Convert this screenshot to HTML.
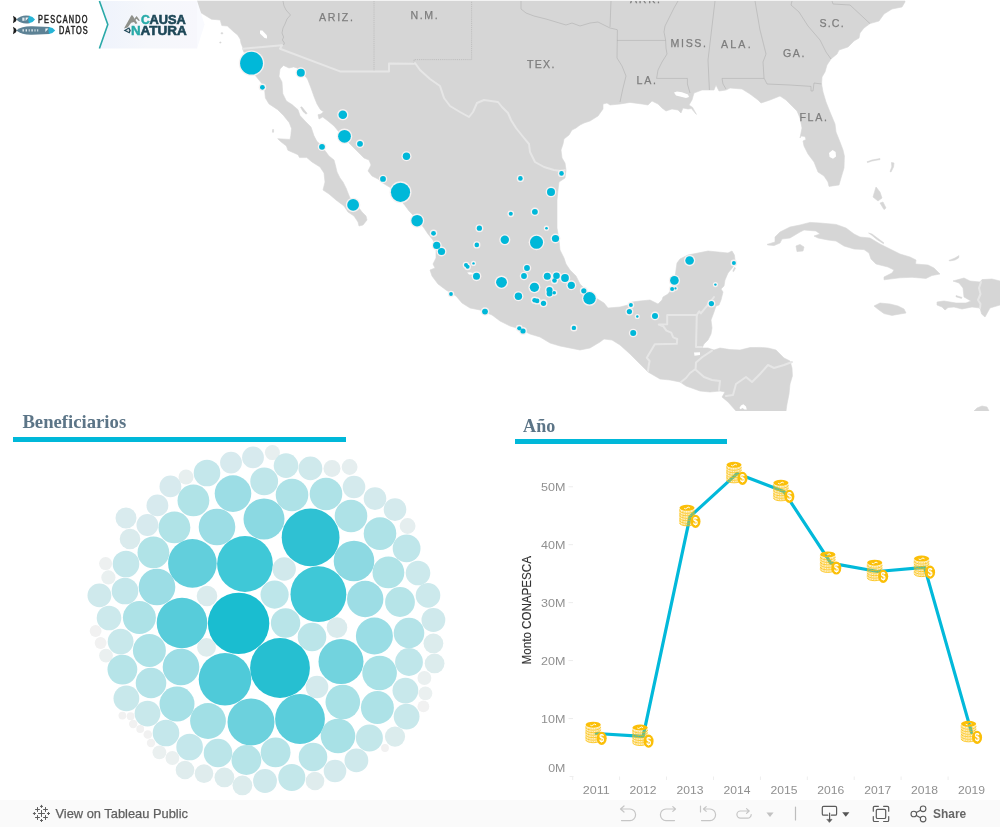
<!DOCTYPE html>
<html><head><meta charset="utf-8"><title>Pescando Datos</title>
<style>
html,body{margin:0;padding:0;background:#fff;}
svg{will-change:transform;}
body{width:1000px;height:827px;position:relative;overflow:hidden;font-family:"Liberation Sans",sans-serif;}
.ttl{position:absolute;font-family:"Liberation Serif",serif;font-weight:bold;color:#5c7587;white-space:nowrap;}
.bar{position:absolute;background:#00b5d8;}
</style></head><body>
<svg width="1000" height="411" viewBox="0 0 1000 411" style="position:absolute;left:0;top:0">
<rect x="0" y="0" width="1000" height="411" fill="#fff"/><defs><clipPath id="mc"><rect x="0" y="1" width="1000" height="410"/></clipPath></defs>
<g stroke="#d6d6d6" stroke-width="0.6" stroke-linejoin="round">
<path d="M197.0,1.0 L905.0,1.0 L905.0,2.0 L902.0,7.0 L892.0,9.0 L884.0,14.0 L879.0,21.0 L870.0,23.6 L864.0,28.0 L860.0,33.0 L859.0,38.0 L854.0,41.0 L848.0,47.0 L839.0,50.0 L837.0,54.0 L831.0,59.0 L827.0,65.0 L825.0,72.0 L822.0,77.0 L821.6,84.0 L823.0,92.0 L826.0,102.0 L830.0,112.0 L835.0,124.0 L836.0,132.0 L840.0,142.0 L843.0,150.0 L844.4,156.0 L844.0,168.0 L841.0,178.0 L839.0,185.0 L829.0,186.4 L828.0,182.0 L824.0,176.0 L818.0,172.0 L814.0,162.0 L808.0,154.0 L804.0,146.0 L803.0,141.0 L806.0,139.5 L805.0,136.5 L801.0,136.0 L800.0,138.0 L802.0,128.0 L800.0,118.0 L797.0,111.0 L792.0,106.0 L786.0,100.0 L780.0,96.0 L770.0,100.0 L761.0,103.0 L758.0,100.0 L750.0,94.0 L742.0,89.0 L730.0,88.0 L726.0,90.0 L719.0,91.0 L716.0,85.0 L714.0,90.0 L702.0,90.0 L694.0,93.0 L692.0,100.0 L689.0,105.0 L692.6,107.4 L696.4,114.4 L691.4,108.6 L688.0,109.0 L683.0,108.0 L681.0,113.0 L678.0,110.0 L672.0,109.0 L666.0,111.0 L662.0,108.0 L658.0,104.0 L652.0,101.0 L648.0,105.0 L642.0,104.0 L630.0,102.4 L620.0,104.0 L610.0,105.0 L607.0,103.0 L603.0,104.0 L603.0,109.0 L598.0,116.0 L590.0,121.0 L584.0,123.0 L580.0,125.0 L576.0,128.0 L572.0,130.0 L569.0,135.0 L564.0,139.0 L563.0,144.0 L561.0,150.0 L562.0,158.0 L565.0,163.0 L566.0,170.0 L565.0,178.0 L559.0,182.0 L558.0,190.0 L557.0,200.0 L557.0,216.0 L557.0,228.0 L559.0,240.0 L560.0,250.0 L564.0,258.0 L566.0,264.0 L570.0,270.0 L576.0,276.0 L580.0,284.0 L586.0,290.0 L596.0,298.0 L604.0,303.0 L608.0,308.0 L620.0,307.0 L628.0,305.0 L632.0,302.0 L640.0,301.0 L650.0,300.0 L658.0,304.0 L662.0,300.0 L663.0,297.0 L668.0,294.0 L671.0,290.0 L673.0,284.0 L675.0,278.0 L676.0,270.0 L677.0,263.0 L680.0,259.0 L688.0,255.0 L698.0,253.0 L708.0,251.0 L718.0,252.0 L728.0,253.0 L732.0,251.0 L734.4,255.0 L735.0,260.0 L733.0,267.0 L728.0,273.0 L725.0,280.0 L724.0,286.0 L721.0,289.0 L723.0,292.0 L721.0,300.0 L719.0,305.0 L716.0,306.0 L714.0,312.0 L711.0,320.0 L712.0,328.0 L711.0,334.0 L708.0,340.0 L704.0,344.0 L702.0,348.0 L708.0,348.0 L714.0,350.0 L720.0,348.0 L730.0,349.6 L740.0,350.0 L750.0,347.6 L760.0,347.4 L768.0,348.0 L776.0,350.0 L780.0,354.0 L784.0,358.0 L790.0,361.0 L792.0,368.0 L792.4,376.0 L790.0,384.0 L789.0,394.0 L787.0,404.0 L786.0,411.0 L736.0,411.0 L728.0,402.0 L722.0,397.0 L725.0,392.0 L720.0,391.0 L710.0,392.0 L700.0,391.0 L686.0,386.0 L680.0,382.0 L670.0,380.0 L660.0,379.0 L648.0,372.0 L640.0,364.0 L630.0,354.0 L620.0,345.0 L612.0,340.0 L604.0,339.0 L600.0,342.0 L590.0,348.0 L580.0,350.0 L570.0,348.0 L560.0,346.0 L550.0,343.0 L540.0,337.0 L530.0,334.0 L520.0,329.0 L510.0,326.0 L500.0,321.0 L492.0,315.0 L480.0,310.0 L470.0,308.0 L462.0,303.0 L456.0,296.0 L446.0,290.0 L438.0,284.0 L432.0,276.0 L430.0,270.0 L435.0,268.0 L433.0,264.0 L436.0,258.0 L436.0,250.0 L433.0,240.0 L428.0,234.0 L424.0,228.0 L418.0,220.0 L409.0,211.0 L405.0,205.5 L398.0,197.0 L391.0,188.0 L386.0,185.0 L382.0,182.5 L378.0,179.0 L372.0,176.0 L368.0,171.0 L371.0,165.0 L369.0,160.0 L364.0,158.0 L358.0,152.0 L354.0,148.0 L350.0,144.0 L344.0,138.0 L339.0,132.0 L334.0,126.0 L328.0,121.0 L322.7,117.0 L319.0,119.0 L318.0,114.7 L321.0,114.0 L323.5,111.8 L320.5,109.7 L317.0,104.0 L314.0,96.6 L311.0,88.0 L307.5,79.0 L302.0,72.0 L297.0,68.0 L293.7,66.9 L289.0,68.0 L283.5,65.4 L280.0,69.0 L279.0,76.3 L282.0,82.0 L282.8,93.7 L286.4,101.0 L292.0,104.6 L298.0,109.7 L300.0,115.5 L305.0,121.0 L311.0,127.0 L314.0,135.8 L317.0,141.6 L320.0,144.0 L326.0,152.0 L329.0,156.0 L334.0,160.0 L335.6,166.0 L337.0,172.0 L340.0,178.0 L343.0,182.0 L346.5,189.0 L347.0,190.5 L350.0,198.0 L358.0,204.0 L359.0,208.0 L362.0,212.0 L366.0,216.0 L367.0,220.0 L363.0,225.0 L359.0,226.0 L358.0,222.0 L354.0,216.0 L348.0,212.0 L344.0,206.0 L336.0,200.0 L329.0,194.0 L323.0,190.0 L325.0,182.0 L324.0,173.0 L320.0,167.0 L312.0,162.0 L306.8,157.6 L299.5,157.6 L298.0,154.7 L287.9,150.3 L286.4,146.0 L280.6,141.6 L277.7,138.7 L290.0,139.4 L290.8,135.8 L291.5,128.5 L289.3,122.7 L283.5,115.5 L277.7,109.7 L269.0,103.9 L265.4,98.0 L264.7,90.8 L261.8,83.5 L256.0,76.3 L250.0,68.0 L245.0,54.0 L243.4,51.2 L242.6,47.2 L241.0,43.2 L240.2,39.2 L237.8,35.2 L233.0,31.2 L227.4,26.0 L221.8,25.6 L220.2,20.0 L211.4,19.2 L201.0,12.8Z" fill="#d6d6d6"/>
<path d="M767.0,244.4 L775.0,242.0 L775.0,237.0 L780.0,232.0 L790.0,227.0 L800.0,225.0 L810.0,222.4 L820.0,223.0 L836.0,224.4 L846.0,228.0 L854.0,234.0 L860.0,237.0 L870.0,238.0 L880.0,244.0 L890.0,249.0 L900.0,254.0 L910.0,257.0 L916.0,260.0 L915.5,264.0 L928.0,265.0 L934.0,268.0 L940.0,274.0 L932.0,275.5 L926.0,278.4 L912.0,277.3 L900.0,277.8 L884.0,279.8 L884.0,277.0 L892.0,273.0 L894.0,270.0 L888.0,267.0 L876.0,264.0 L871.0,259.0 L869.0,253.0 L864.0,249.6 L854.0,249.0 L844.0,246.0 L836.0,241.0 L828.0,240.0 L818.0,238.0 L814.0,236.0 L820.0,234.0 L816.0,231.0 L804.0,230.0 L800.0,232.0 L790.0,238.0 L782.0,239.0 L780.0,243.0 L774.0,245.6 L768.0,245.0Z" fill="#d6d6d6"/>
<path d="M796.0,246.0 L800.0,244.4 L804.0,247.0 L803.0,251.0 L797.0,251.6Z" fill="#d6d6d6"/>
<path d="M874.0,306.0 L880.0,303.0 L890.0,304.0 L898.0,306.0 L904.0,309.0 L906.0,313.0 L900.0,314.0 L892.0,315.4 L884.0,313.6 L879.0,310.0Z" fill="#d6d6d6"/>
<path d="M953.0,281.0 L964.0,278.0 L970.0,281.0 L980.0,282.0 L982.0,279.6 L992.0,279.0 L1000.0,281.0 L1000.0,305.0 L990.0,308.0 L985.0,317.0 L981.6,314.0 L980.0,308.0 L972.0,307.0 L962.0,309.0 L954.0,307.0 L948.0,307.6 L945.0,310.0 L942.0,307.0 L937.0,305.0 L937.0,302.0 L944.0,301.0 L956.0,303.0 L966.0,303.0 L971.0,301.0 L964.0,297.0 L963.0,288.0 L959.0,283.0Z" fill="#d6d6d6"/>
<path d="M956.0,295.6 L962.0,297.4 L961.5,298.4 L956.0,296.8Z" fill="#d6d6d6"/>
<path d="M876.0,187.0 L873.0,197.0 L878.0,201.0 L882.0,198.0 L880.0,192.0Z" fill="#d6d6d6"/>
<path d="M880.0,203.0 L884.0,209.6 L886.0,208.0 L883.0,202.0Z" fill="#d6d6d6"/>
<path d="M867.0,161.8 L872.0,160.0 L880.0,158.6 L880.0,159.6 L872.0,161.0 L867.5,162.6Z" fill="#d6d6d6"/>
<path d="M891.5,162.5 L894.0,163.0 L893.5,167.0 L891.0,172.0 L890.0,171.5 L891.8,167.0Z" fill="#d6d6d6"/>
<path d="M949.0,260.4 L955.0,258.0 L959.0,255.6 L958.5,258.0 L955.0,260.0 L949.5,261.0Z" fill="#d6d6d6"/>
<path d="M868.6,233.0 L872.0,234.0 L878.0,238.5 L884.0,243.0 L883.3,243.6 L877.0,239.5 L871.5,235.0Z" fill="#d6d6d6"/>
<path d="M734.5,267.5 L735.5,268.0 L733.6,271.6 L732.8,271.2Z" fill="#d6d6d6"/>
<path d="M974.0,411.0 L977.0,408.0 L982.0,406.0 L987.0,407.0 L989.0,411.0Z" fill="#d6d6d6"/>
<path d="M300.6,107.2 L301.8,106.8 L307.0,113.3 L306.2,114.2 L303.0,111.5Z" fill="#d6d6d6"/>
<path d="M272.6,129.5 L273.6,129.5 L273.6,132.2 L272.4,132.2Z" fill="#d6d6d6"/>
<path d="M221.0,32.8 L222.8,32.8 L222.8,33.8 L221.0,33.8Z" fill="#d6d6d6"/>
<path d="M219.8,42.0 L221.0,42.0 L221.0,43.0 L219.8,43.0Z" fill="#d6d6d6"/>
</g>
<path d="M260.0,30.4 L262.4,30.4 L267.0,35.5 L267.0,38.4 L264.6,38.0 L260.0,33.4Z" fill="#fff"/>
<path d="M674.0,92.4 L677.0,91.4 L682.0,92.2 L688.0,94.5 L689.0,97.0 L686.0,98.0 L680.0,96.5 L676.0,95.4Z" fill="#fff"/>
<path d="M832.6,150.0 L835.6,152.0 L836.0,156.5 L833.0,158.8 L829.6,157.0 L829.0,153.0Z" fill="#fff"/>
<path d="M467.2,272.5 L470.0,272.3 L473.0,273.0 L472.8,274.4 L469.0,274.5Z" fill="#fff"/>
<path d="M694.0,352.6 L700.0,352.2 L700.0,355.0 L694.5,355.8Z" fill="#fff"/>
<path d="M739.4,408.0 L741.0,405.4 L743.4,404.2 L746.0,406.6 L746.8,409.4 L744.5,409.6 L742.5,408.0 L740.6,409.2Z" fill="#fff"/>
<g fill="none" stroke="#a9a9a9" stroke-width="0.5">
<path d="M283.0,1.0 L284.0,6.0 L286.0,10.0 L290.5,15.0 L287.0,19.0 L285.0,24.0 L283.0,28.0 L282.0,33.0 L283.6,37.0 L282.4,40.0 L284.4,43.0 L283.6,45.0"/>
<path d="M521.0,1.0 L521.0,9.0 L526.0,13.0 L534.0,16.0 L546.0,19.0 L556.0,22.0 L566.0,25.0 L572.0,23.0 L580.0,26.0 L590.0,23.0 L598.0,22.0 L604.0,25.0 L610.0,28.0 L617.0,29.6"/>
<path d="M617.4,29.6 L617.0,58.0 L622.0,66.0 L626.0,76.0 L623.0,88.0 L620.0,102.0"/>
<path d="M611.0,1.0 L610.0,27.0"/>
<path d="M617.0,40.4 L665.6,40.4"/>
<path d="M678.0,1.0 L674.0,8.0 L670.0,16.0 L665.0,26.0 L664.0,32.0 L665.6,40.0 L666.0,48.0 L667.0,54.0 L662.0,62.0 L658.0,70.0 L656.6,78.4"/>
<path d="M656.6,78.4 L687.4,78.4 L687.4,84.0 L690.0,93.0"/>
<path d="M715.0,1.0 L708.0,60.0 L709.4,90.0"/>
<path d="M755.0,1.0 L760.0,30.0 L766.0,54.0 L763.0,62.0 L764.0,78.0 L767.0,84.0"/>
<path d="M726.0,89.0 L723.0,84.0 L722.0,78.4 L764.0,78.4"/>
<path d="M767.0,84.0 L790.0,85.0 L811.0,86.4 L811.0,91.0 L813.0,91.0 L814.0,83.0 L821.6,84.0"/>
<path d="M792.0,1.0 L791.0,5.0 L799.0,12.0 L808.0,26.0 L820.0,40.0 L826.0,52.0 L831.0,59.0"/>
<path d="M832.0,1.0 L833.0,4.0 L850.0,5.0 L870.0,23.6"/>
</g>
<g fill="none" stroke="#a9a9a9" stroke-width="0.5" stroke-dasharray="1.2,0.9">
<path d="M374.0,1.0 L374.0,71.4"/>
<path d="M414.0,63.0 L414.0,59.6 L471.6,59.6 L471.6,1.0"/>
</g>
<g fill="none" stroke="#e6e6e6" stroke-width="2" stroke-linejoin="round" stroke-linecap="round">
<path d="M243.0,48.8 L282.0,45.2 L280.0,48.7 L340.0,71.4 L389.0,71.4 L389.0,63.6 L414.0,63.8 L415.0,63.0 L420.0,70.0 L430.0,79.0 L440.0,86.0 L444.0,98.0 L450.0,106.0 L460.0,112.0 L469.0,117.0 L473.0,112.0 L477.0,103.0 L484.0,100.0 L498.0,102.0 L502.0,107.0 L508.0,113.0 L511.0,120.0 L516.0,128.0 L524.0,138.0 L529.0,144.0 L530.0,152.0 L535.0,162.0 L544.0,167.0 L554.0,170.0 L561.0,171.0 L565.0,170.0"/>
<path d="M648.0,371.0 L648.8,365.0 L649.6,361.0 L646.8,357.8 L654.8,344.2 L676.8,343.8 L677.2,339.0 L673.2,337.4 L671.2,332.6 L666.4,330.6 L663.2,326.2 L658.8,324.6 L667.2,324.2 L667.2,315.0 L696.8,315.0"/>
<path d="M696.8,315.0 L696.0,347.0 L701.6,347.0"/>
<path d="M696.8,315.0 L699.2,311.4 L700.8,313.4 L706.4,306.6 L711.0,301.0 L714.0,297.0"/>
<path d="M712.0,350.6 L702.4,357.0 L696.0,362.6 L695.6,369.0 L690.0,373.0 L686.0,378.0 L681.0,382.0"/>
<path d="M696.0,370.0 L704.0,377.0 L712.0,380.0 L720.0,381.0 L719.0,390.0"/>
<path d="M726.0,396.0 L733.0,395.0 L736.0,384.0 L746.0,377.0 L752.0,382.0 L760.0,374.0 L768.0,365.0 L774.0,368.0 L784.0,365.0 L792.0,362.0"/>
<path d="M981.0,282.0 L979.0,288.0 L980.5,294.0 L978.0,300.0 L980.5,304.0 L980.0,308.0"/>
</g>
<g clip-path="url(#mc)" font-family="Liberation Sans, sans-serif" font-size="10.6" fill="#7d7d7d" stroke="#7d7d7d" stroke-width="0.25">
<text x="319.0" y="20.8" textLength="34.0" lengthAdjust="spacing">ARIZ.</text>
<text x="410.6" y="18.8" textLength="27.0" lengthAdjust="spacing">N.M.</text>
<text x="527.0" y="67.6" textLength="27.4" lengthAdjust="spacing">TEX.</text>
<text x="670.6" y="47.0" textLength="35.4" lengthAdjust="spacing">MISS.</text>
<text x="721.0" y="48.0" textLength="29.6" lengthAdjust="spacing">ALA.</text>
<text x="636.6" y="84.0" textLength="19.4" lengthAdjust="spacing">LA.</text>
<text x="783.0" y="57.4" textLength="21.4" lengthAdjust="spacing">GA.</text>
<text x="819.4" y="26.6" textLength="24.2" lengthAdjust="spacing">S.C.</text>
<text x="799.4" y="121.4" textLength="27.6" lengthAdjust="spacing">FLA.</text>
<text x="630.0" y="3.3" textLength="30.0" lengthAdjust="spacing">ARK.</text>
</g>
<g fill="#f6f2f2">
<circle cx="251.5" cy="63.2" r="12.75"/>
<circle cx="300.8" cy="72.7" r="5.35"/>
<circle cx="262.4" cy="87.3" r="3.75"/>
<circle cx="342.8" cy="114.7" r="5.65"/>
<circle cx="344.5" cy="136.3" r="7.75"/>
<circle cx="360.0" cy="143.8" r="4.25"/>
<circle cx="322.0" cy="146.8" r="4.25"/>
<circle cx="406.5" cy="156.3" r="5.05"/>
<circle cx="383.0" cy="178.9" r="4.25"/>
<circle cx="400.5" cy="192.3" r="10.95"/>
<circle cx="353.1" cy="204.9" r="7.25"/>
<circle cx="417.1" cy="220.7" r="7.15"/>
<circle cx="433.5" cy="233.3" r="3.75"/>
<circle cx="436.7" cy="245.4" r="4.95"/>
<circle cx="441.5" cy="251.5" r="4.95"/>
<circle cx="561.5" cy="173.4" r="3.65"/>
<circle cx="520.4" cy="178.4" r="3.65"/>
<circle cx="551.0" cy="191.9" r="5.35"/>
<circle cx="534.9" cy="211.8" r="4.25"/>
<circle cx="510.8" cy="213.8" r="3.35"/>
<circle cx="479.4" cy="228.2" r="3.95"/>
<circle cx="546.5" cy="228.2" r="2.65"/>
<circle cx="555.5" cy="238.5" r="4.95"/>
<circle cx="536.5" cy="242.3" r="7.85"/>
<circle cx="504.8" cy="239.8" r="5.55"/>
<circle cx="476.8" cy="244.9" r="3.65"/>
<circle cx="466.0" cy="265.0" r="3.35"/>
<circle cx="467.6" cy="266.8" r="3.35"/>
<circle cx="473.5" cy="263.4" r="2.55"/>
<circle cx="527.0" cy="268.0" r="4.25"/>
<circle cx="476.5" cy="276.3" r="4.85"/>
<circle cx="501.5" cy="282.3" r="6.75"/>
<circle cx="524.0" cy="276.0" r="4.25"/>
<circle cx="518.4" cy="296.3" r="5.05"/>
<circle cx="534.4" cy="287.3" r="5.95"/>
<circle cx="547.3" cy="276.3" r="4.85"/>
<circle cx="556.5" cy="275.8" r="4.65"/>
<circle cx="554.5" cy="280.5" r="3.65"/>
<circle cx="565.0" cy="278.0" r="5.25"/>
<circle cx="571.3" cy="285.3" r="4.95"/>
<circle cx="549.5" cy="290.0" r="4.45"/>
<circle cx="549.5" cy="293.5" r="4.25"/>
<circle cx="554.2" cy="292.8" r="3.15"/>
<circle cx="534.6" cy="300.2" r="3.65"/>
<circle cx="537.1" cy="300.9" r="3.65"/>
<circle cx="543.5" cy="303.3" r="3.95"/>
<circle cx="583.8" cy="290.8" r="3.95"/>
<circle cx="589.5" cy="298.3" r="7.55"/>
<circle cx="573.9" cy="327.9" r="3.55"/>
<circle cx="451.0" cy="294.0" r="3.25"/>
<circle cx="485.0" cy="311.6" r="4.25"/>
<circle cx="519.3" cy="328.3" r="3.45"/>
<circle cx="523.0" cy="331.0" r="3.95"/>
<circle cx="689.6" cy="260.5" r="5.65"/>
<circle cx="733.9" cy="262.9" r="3.35"/>
<circle cx="674.4" cy="280.4" r="5.65"/>
<circle cx="672.1" cy="289.0" r="3.35"/>
<circle cx="675.5" cy="288.4" r="2.45"/>
<circle cx="715.4" cy="284.6" r="2.55"/>
<circle cx="711.4" cy="303.6" r="3.95"/>
<circle cx="630.9" cy="305.1" r="3.35"/>
<circle cx="629.4" cy="311.6" r="3.95"/>
<circle cx="637.3" cy="316.5" r="2.55"/>
<circle cx="655.0" cy="315.9" r="4.35"/>
<circle cx="633.2" cy="333.0" r="4.35"/>
</g>
<g fill="#00b8d9">
<circle cx="251.5" cy="63.2" r="11.40"/>
<circle cx="300.8" cy="72.7" r="4.00"/>
<circle cx="262.4" cy="87.3" r="2.40"/>
<circle cx="342.8" cy="114.7" r="4.30"/>
<circle cx="344.5" cy="136.3" r="6.40"/>
<circle cx="360.0" cy="143.8" r="2.90"/>
<circle cx="322.0" cy="146.8" r="2.90"/>
<circle cx="406.5" cy="156.3" r="3.70"/>
<circle cx="383.0" cy="178.9" r="2.90"/>
<circle cx="400.5" cy="192.3" r="9.60"/>
<circle cx="353.1" cy="204.9" r="5.90"/>
<circle cx="417.1" cy="220.7" r="5.80"/>
<circle cx="433.5" cy="233.3" r="2.40"/>
<circle cx="436.7" cy="245.4" r="3.60"/>
<circle cx="441.5" cy="251.5" r="3.60"/>
<circle cx="561.5" cy="173.4" r="2.30"/>
<circle cx="520.4" cy="178.4" r="2.30"/>
<circle cx="551.0" cy="191.9" r="4.00"/>
<circle cx="534.9" cy="211.8" r="2.90"/>
<circle cx="510.8" cy="213.8" r="2.00"/>
<circle cx="479.4" cy="228.2" r="2.60"/>
<circle cx="546.5" cy="228.2" r="1.30"/>
<circle cx="555.5" cy="238.5" r="3.60"/>
<circle cx="536.5" cy="242.3" r="6.50"/>
<circle cx="504.8" cy="239.8" r="4.20"/>
<circle cx="476.8" cy="244.9" r="2.30"/>
<circle cx="466.0" cy="265.0" r="2.00"/>
<circle cx="467.6" cy="266.8" r="2.00"/>
<circle cx="473.5" cy="263.4" r="1.20"/>
<circle cx="527.0" cy="268.0" r="2.90"/>
<circle cx="476.5" cy="276.3" r="3.50"/>
<circle cx="501.5" cy="282.3" r="5.40"/>
<circle cx="524.0" cy="276.0" r="2.90"/>
<circle cx="518.4" cy="296.3" r="3.70"/>
<circle cx="534.4" cy="287.3" r="4.60"/>
<circle cx="547.3" cy="276.3" r="3.50"/>
<circle cx="556.5" cy="275.8" r="3.30"/>
<circle cx="554.5" cy="280.5" r="2.30"/>
<circle cx="565.0" cy="278.0" r="3.90"/>
<circle cx="571.3" cy="285.3" r="3.60"/>
<circle cx="549.5" cy="290.0" r="3.10"/>
<circle cx="549.5" cy="293.5" r="2.90"/>
<circle cx="554.2" cy="292.8" r="1.80"/>
<circle cx="534.6" cy="300.2" r="2.30"/>
<circle cx="537.1" cy="300.9" r="2.30"/>
<circle cx="543.5" cy="303.3" r="2.60"/>
<circle cx="583.8" cy="290.8" r="2.60"/>
<circle cx="589.5" cy="298.3" r="6.20"/>
<circle cx="573.9" cy="327.9" r="2.20"/>
<circle cx="451.0" cy="294.0" r="1.90"/>
<circle cx="485.0" cy="311.6" r="2.90"/>
<circle cx="519.3" cy="328.3" r="2.10"/>
<circle cx="523.0" cy="331.0" r="2.60"/>
<circle cx="689.6" cy="260.5" r="4.30"/>
<circle cx="733.9" cy="262.9" r="2.00"/>
<circle cx="674.4" cy="280.4" r="4.30"/>
<circle cx="672.1" cy="289.0" r="2.00"/>
<circle cx="675.5" cy="288.4" r="1.10"/>
<circle cx="715.4" cy="284.6" r="1.20"/>
<circle cx="711.4" cy="303.6" r="2.60"/>
<circle cx="630.9" cy="305.1" r="2.00"/>
<circle cx="629.4" cy="311.6" r="2.60"/>
<circle cx="637.3" cy="316.5" r="1.20"/>
<circle cx="655.0" cy="315.9" r="3.00"/>
<circle cx="633.2" cy="333.0" r="3.00"/>
</g>
</svg>
<svg width="215" height="50" viewBox="0 0 215 50" style="position:absolute;left:0;top:0">
<defs><linearGradient id="pg" x1="0" x2="1" y1="0" y2="0"><stop offset="0" stop-color="#eff3fc"/><stop offset="0.5" stop-color="#f5f7fb"/><stop offset="1" stop-color="#f7f7fc"/></linearGradient></defs>
<path d="M0,1 H99.2 L107.6,24.6 L99.2,48.6 H0 Z" fill="#fff"/>
<path d="M99.2,1 H197.2 V48.6 H99.2 L107.6,24.6 Z" fill="url(#pg)"/><path d="M197,1 L204.6,24.4 L197,48.6 Z" fill="#f9fafe"/>
<path d="M99.4,1 L107.8,24.6 L99.4,48.6" fill="none" stroke="#2aa9a8" stroke-width="1.6"/>
<!-- fish 1 -->
<path d="M13,15.8 Q16.5,17.5 16.8,19.5 Q16.5,21.5 13,23.2 Q14.6,19.5 13,15.8Z" fill="#1c1c1c"/>
<path d="M16.2,19.5 Q22,14.2 29.5,15.8 L29.5,23.2 Q22,24.8 16.2,19.5Z" fill="#5d8295"/>
<path d="M29,15.7 Q33,16.4 35,19.4 Q33,22.6 29,23.3 Q27.6,19.5 29,15.7Z" fill="#27b4d6"/>
<rect x="22.3" y="17.6" width="2.2" height="3.2" fill="#dfe9ee"/><path d="M25.6,17.6 h3 l-3,3.4z" fill="#f2f6f8"/>
<!-- fish 2 -->
<path d="M13,26.8 Q16.5,28.5 16.8,30.5 Q16.5,32.5 13,34.2 Q14.6,30.5 13,26.8Z" fill="#1c1c1c"/>
<path d="M16.2,30.5 Q22,26 32,26.3 L49.5,27 L49.5,34 L32,34.7 Q22,35 16.2,30.5Z" fill="#5d8295"/>
<path d="M49,27.1 Q53,27.6 55.2,30.4 Q53,33.4 49,33.9 Q47.6,30.5 49,27.1Z" fill="#27b4d6"/>
<path d="M22.5,29.2h1.4v2.4h-1.4z M25.6,29.2h1.4v2.4h-1.4z M28.7,29.2h1v2.4h-1z M31.4,29.2h1.4v2.4h-1.4z M34.5,29.2h1v2.4h-1z M37.2,29.2h1v2.4h-1z" fill="#dfe9ee"/><path d="M45.4,28.6 h3 l-3,3.4z" fill="#f2f6f8"/>
<g font-family="Liberation Sans, sans-serif" fill="#232323" font-size="10.5" stroke="#232323" stroke-width="0.5">
<text transform="translate(38,22.9) scale(0.7,1)" textLength="70.6" lengthAdjust="spacing">PESCANDO</text>
<text transform="translate(59,33.8) scale(0.7,1)" textLength="41" lengthAdjust="spacing">DATOS</text>
</g>
<!-- causa natura -->
<path d="M124,28.6 L131.4,15.2 L132.6,15.4 L137.4,23.2 L135.6,23.9 L134,22 L131.2,22.8 L127.6,27.4 Z" fill="#8f918b"/>
<path d="M134.6,18.6 L136.6,16 L139.9,20.4 L138.8,21.1 L136.4,18.8 L135.5,20.2 Z" fill="#8f918b"/>
<path d="M123.6,30.4 L129.2,27.2 L130.8,30.4 L129.6,33.6 Z" fill="#1d4757"/>
<path d="M126,30.3 L128.7,28.8 L129.3,30.4 L128.8,32 Z" fill="#d7dee3"/>
<g font-family="Liberation Sans, sans-serif" font-weight="bold">
<text x="141" y="24" font-size="12.5" fill="#27aaa8" textLength="8.8" lengthAdjust="spacingAndGlyphs" stroke="#27aaa8" stroke-width="0.5">C</text>
<text x="149.6" y="24" font-size="12.5" fill="#1d4757" textLength="36.2" lengthAdjust="spacingAndGlyphs" stroke="#1d4757" stroke-width="0.6">AUSA</text>
<text x="131" y="34.6" font-size="13" fill="#27aaa8" textLength="9.6" lengthAdjust="spacingAndGlyphs" stroke="#27aaa8" stroke-width="0.5">N</text>
<text x="140.6" y="34.6" font-size="13" fill="#1d4757" textLength="46.2" lengthAdjust="spacingAndGlyphs" stroke="#1d4757" stroke-width="0.6">ATURA</text>
</g>
</svg>
<svg width="1000" height="45" viewBox="0 405 1000 45" style="position:absolute;left:0;top:405px">
<g font-family="Liberation Serif, serif" font-weight="bold" font-size="18.7" fill="#5c7587">
<text x="22.4" y="427.5" font-size="18.3" textLength="103.8" lengthAdjust="spacingAndGlyphs">Beneficiarios</text>
<text x="523.1" y="431.7" textLength="32.1" lengthAdjust="spacingAndGlyphs">Año</text>
</g>
<rect x="13" y="437" width="333" height="5" fill="#00b8d9"/>
<rect x="515" y="439" width="212" height="5" fill="#00b8d9"/>
</svg>
<svg width="500" height="355" viewBox="0 445 500 355" style="position:absolute;left:0;top:445px">
<circle cx="272.4" cy="452.6" r="7.5" fill="#e7efef"/>
<circle cx="253.0" cy="457.4" r="10.9" fill="#d7eaee"/>
<circle cx="231.0" cy="462.6" r="10.9" fill="#d7eaee"/>
<circle cx="207.0" cy="473.0" r="13.3" fill="#c4e7eb"/>
<circle cx="186.0" cy="477.0" r="7.5" fill="#e7efef"/>
<circle cx="170.4" cy="486.4" r="10.9" fill="#d7eaee"/>
<circle cx="233.0" cy="493.6" r="18.3" fill="#9cdde5"/>
<circle cx="264.2" cy="481.4" r="13.9" fill="#bfe6ea"/>
<circle cx="193.4" cy="500.4" r="15.9" fill="#b0e3e7"/>
<circle cx="157.4" cy="505.4" r="10.9" fill="#d7eaee"/>
<circle cx="126.0" cy="518.0" r="10.5" fill="#d9ebee"/>
<circle cx="147.4" cy="525.0" r="10.9" fill="#d7eaee"/>
<circle cx="174.4" cy="527.4" r="15.9" fill="#b0e3e7"/>
<circle cx="217.0" cy="527.0" r="18.3" fill="#9cdde5"/>
<circle cx="264.0" cy="519.0" r="20.5" fill="#8bd9e2"/>
<circle cx="130.0" cy="539.0" r="10.3" fill="#daebed"/>
<circle cx="153.4" cy="552.4" r="15.9" fill="#b0e3e7"/>
<circle cx="192.4" cy="563.4" r="24.3" fill="#62cfdc"/>
<circle cx="245.0" cy="564.0" r="27.9" fill="#3fc8d7"/>
<circle cx="126.0" cy="564.0" r="13.3" fill="#c4e7eb"/>
<circle cx="105.6" cy="563.6" r="6.5" fill="#edf0f0"/>
<circle cx="108.4" cy="577.4" r="7.1" fill="#e9f0f0"/>
<circle cx="125.0" cy="591.0" r="13.3" fill="#c4e7eb"/>
<circle cx="157.0" cy="587.0" r="18.3" fill="#9cdde5"/>
<circle cx="99.4" cy="595.4" r="11.9" fill="#cfe9ec"/>
<circle cx="207.0" cy="596.0" r="10.3" fill="#daebed"/>
<circle cx="286.0" cy="465.6" r="12.3" fill="#cce9ec"/>
<circle cx="310.4" cy="468.4" r="11.9" fill="#cfe9ec"/>
<circle cx="332.0" cy="468.6" r="8.5" fill="#e3edee"/>
<circle cx="349.6" cy="467.0" r="7.9" fill="#e5eeef"/>
<circle cx="292.0" cy="495.0" r="16.3" fill="#aee2e7"/>
<circle cx="326.0" cy="494.0" r="16.3" fill="#aee2e7"/>
<circle cx="354.0" cy="487.0" r="11.3" fill="#d4eaed"/>
<circle cx="375.0" cy="498.6" r="11.3" fill="#d4eaed"/>
<circle cx="395.0" cy="509.6" r="11.3" fill="#d4eaed"/>
<circle cx="407.6" cy="526.0" r="7.9" fill="#e5eeef"/>
<circle cx="351.0" cy="516.0" r="16.3" fill="#aee2e7"/>
<circle cx="310.6" cy="537.4" r="28.9" fill="#2fc1d3"/>
<circle cx="380.0" cy="533.6" r="16.3" fill="#aee2e7"/>
<circle cx="406.6" cy="548.4" r="13.9" fill="#bfe6ea"/>
<circle cx="354.0" cy="561.0" r="20.3" fill="#8dd9e2"/>
<circle cx="284.2" cy="569.0" r="11.7" fill="#d1e9ec"/>
<circle cx="388.4" cy="572.4" r="15.9" fill="#b0e3e7"/>
<circle cx="418.0" cy="573.0" r="12.3" fill="#cce9ec"/>
<circle cx="318.4" cy="594.2" r="27.9" fill="#3fc8d7"/>
<circle cx="274.6" cy="594.6" r="14.1" fill="#bde6ea"/>
<circle cx="365.2" cy="599.0" r="18.2" fill="#9ddde5"/>
<circle cx="400.0" cy="602.0" r="14.9" fill="#b6e4e8"/>
<circle cx="428.0" cy="595.4" r="12.3" fill="#cce9ec"/>
<circle cx="182.0" cy="623.0" r="25.3" fill="#57ccda"/>
<circle cx="238.6" cy="623.4" r="30.7" fill="#1abdd0"/>
<circle cx="139.4" cy="617.6" r="16.5" fill="#ade2e7"/>
<circle cx="109.0" cy="618.0" r="12.3" fill="#cce9ec"/>
<circle cx="95.6" cy="631.0" r="5.9" fill="#f1f1f1"/>
<circle cx="100.6" cy="643.0" r="5.9" fill="#f1f1f1"/>
<circle cx="106.0" cy="655.6" r="6.9" fill="#eaf0f0"/>
<circle cx="120.6" cy="641.6" r="12.9" fill="#c8e8eb"/>
<circle cx="149.4" cy="650.4" r="16.5" fill="#ade2e7"/>
<circle cx="206.5" cy="647.4" r="9.4" fill="#deeced"/>
<circle cx="122.4" cy="669.6" r="14.9" fill="#b6e4e8"/>
<circle cx="181.0" cy="667.0" r="18.3" fill="#9cdde5"/>
<circle cx="225.0" cy="679.2" r="26.3" fill="#4fcad9"/>
<circle cx="151.0" cy="683.0" r="15.3" fill="#b4e3e8"/>
<circle cx="126.4" cy="698.4" r="12.9" fill="#c8e8eb"/>
<circle cx="177.0" cy="704.0" r="17.5" fill="#a6e0e6"/>
<circle cx="147.5" cy="713.6" r="12.9" fill="#c8e8eb"/>
<circle cx="122.4" cy="715.6" r="3.9" fill="#f1f1f1"/>
<circle cx="130.6" cy="716.2" r="3.9" fill="#f1f1f1"/>
<circle cx="133.2" cy="724.0" r="4.2" fill="#f1f1f1"/>
<circle cx="140.2" cy="729.0" r="3.9" fill="#f1f1f1"/>
<circle cx="147.8" cy="734.5" r="4.3" fill="#f1f1f1"/>
<circle cx="151.0" cy="743.0" r="4.2" fill="#f1f1f1"/>
<circle cx="166.0" cy="733.0" r="13.3" fill="#c4e7eb"/>
<circle cx="208.0" cy="721.0" r="17.9" fill="#a1dfe5"/>
<circle cx="251.0" cy="722.0" r="23.5" fill="#6cd1dd"/>
<circle cx="433.4" cy="620.0" r="11.9" fill="#cfe9ec"/>
<circle cx="285.6" cy="623.0" r="14.7" fill="#b8e4e8"/>
<circle cx="337.0" cy="627.6" r="10.3" fill="#daebed"/>
<circle cx="312.0" cy="637.0" r="14.3" fill="#bbe5e9"/>
<circle cx="374.4" cy="636.0" r="18.5" fill="#9adde5"/>
<circle cx="409.0" cy="633.0" r="15.3" fill="#b4e3e8"/>
<circle cx="433.4" cy="643.4" r="9.9" fill="#dceced"/>
<circle cx="280.0" cy="668.0" r="29.9" fill="#26bfd1"/>
<circle cx="341.0" cy="661.6" r="22.5" fill="#72d3de"/>
<circle cx="409.0" cy="662.0" r="13.9" fill="#bfe6ea"/>
<circle cx="434.6" cy="663.4" r="9.9" fill="#dceced"/>
<circle cx="379.6" cy="673.0" r="17.3" fill="#a8e1e6"/>
<circle cx="424.4" cy="678.0" r="6.9" fill="#eaf0f0"/>
<circle cx="317.0" cy="687.0" r="11.3" fill="#d4eaed"/>
<circle cx="405.4" cy="690.6" r="12.9" fill="#c8e8eb"/>
<circle cx="425.4" cy="693.4" r="6.9" fill="#eaf0f0"/>
<circle cx="423.4" cy="706.4" r="5.9" fill="#f1f1f1"/>
<circle cx="342.8" cy="702.0" r="17.3" fill="#a8e1e6"/>
<circle cx="377.4" cy="707.6" r="16.5" fill="#ade2e7"/>
<circle cx="406.6" cy="716.6" r="12.9" fill="#c8e8eb"/>
<circle cx="300.0" cy="719.0" r="24.9" fill="#5acddb"/>
<circle cx="338.0" cy="736.0" r="17.3" fill="#a8e1e6"/>
<circle cx="369.4" cy="738.0" r="13.5" fill="#c3e7ea"/>
<circle cx="395.0" cy="736.6" r="10.1" fill="#dbeced"/>
<circle cx="189.6" cy="747.0" r="13.3" fill="#c4e7eb"/>
<circle cx="218.0" cy="753.0" r="14.3" fill="#bbe5e9"/>
<circle cx="246.4" cy="760.0" r="14.9" fill="#b6e4e8"/>
<circle cx="275.6" cy="752.4" r="14.9" fill="#b6e4e8"/>
<circle cx="313.0" cy="757.0" r="14.3" fill="#bbe5e9"/>
<circle cx="291.8" cy="777.4" r="13.5" fill="#c3e7ea"/>
<circle cx="265.0" cy="781.0" r="11.9" fill="#cfe9ec"/>
<circle cx="242.4" cy="785.4" r="9.9" fill="#dceced"/>
<circle cx="224.4" cy="777.4" r="9.9" fill="#dceced"/>
<circle cx="204.0" cy="773.6" r="9.3" fill="#dfeced"/>
<circle cx="185.0" cy="770.0" r="9.3" fill="#dfeced"/>
<circle cx="172.4" cy="758.0" r="6.9" fill="#eaf0f0"/>
<circle cx="159.4" cy="752.4" r="6.9" fill="#eaf0f0"/>
<circle cx="315.0" cy="781.0" r="9.3" fill="#dfeced"/>
<circle cx="385.0" cy="748.0" r="3.9" fill="#f1f1f1"/>
<circle cx="356.4" cy="760.4" r="11.9" fill="#cfe9ec"/>
<circle cx="335.0" cy="771.0" r="11.3" fill="#d4eaed"/>
</svg>
<svg width="500" height="390" viewBox="500 410 500 390" style="position:absolute;left:500px;top:410px">
<defs><mask id="cm" maskUnits="userSpaceOnUse" x="-12" y="-13" width="18" height="9"><rect x="-12" y="-13" width="18" height="9" fill="#fff"/><path d="M-5.6,-8.1 q1.3,1.1 2.6,-0.5 q1.2,-1.6 2.6,-0.3" fill="none" stroke="#000" stroke-width="1" stroke-linecap="round"/></mask></defs>
<line x1="568.5" x2="573" y1="486.75" y2="486.75" stroke="#ececec" stroke-width="1"/>
<text x="565.4" y="490.8" text-anchor="end" font-family="Liberation Sans, sans-serif" font-size="11.4" fill="#909090" textLength="24.4" lengthAdjust="spacingAndGlyphs">50M</text>
<line x1="568.5" x2="573" y1="544.70" y2="544.70" stroke="#ececec" stroke-width="1"/>
<text x="565.4" y="548.8" text-anchor="end" font-family="Liberation Sans, sans-serif" font-size="11.4" fill="#909090" textLength="24.4" lengthAdjust="spacingAndGlyphs">40M</text>
<line x1="568.5" x2="573" y1="602.65" y2="602.65" stroke="#ececec" stroke-width="1"/>
<text x="565.4" y="606.7" text-anchor="end" font-family="Liberation Sans, sans-serif" font-size="11.4" fill="#909090" textLength="24.4" lengthAdjust="spacingAndGlyphs">30M</text>
<line x1="568.5" x2="573" y1="660.60" y2="660.60" stroke="#ececec" stroke-width="1"/>
<text x="565.4" y="664.6" text-anchor="end" font-family="Liberation Sans, sans-serif" font-size="11.4" fill="#909090" textLength="24.4" lengthAdjust="spacingAndGlyphs">20M</text>
<line x1="568.5" x2="573" y1="718.55" y2="718.55" stroke="#ececec" stroke-width="1"/>
<text x="565.4" y="722.6" text-anchor="end" font-family="Liberation Sans, sans-serif" font-size="11.4" fill="#909090" textLength="24.4" lengthAdjust="spacingAndGlyphs">10M</text>
<text x="565.4" y="771.7" text-anchor="end" font-family="Liberation Sans, sans-serif" font-size="11.4" fill="#909090" textLength="17.2" lengthAdjust="spacingAndGlyphs">0M</text>
<line x1="569.5" x2="573.5" y1="776.5" y2="776.5" stroke="#eeeeee" stroke-width="1"/>
<line x1="572.7" x2="572.7" y1="776.5" y2="780" stroke="#eeeeee" stroke-width="1"/>
<line x1="619.6" x2="619.6" y1="776.5" y2="780" stroke="#eeeeee" stroke-width="1"/>
<line x1="666.5" x2="666.5" y1="776.5" y2="780" stroke="#eeeeee" stroke-width="1"/>
<line x1="713.5" x2="713.5" y1="776.5" y2="780" stroke="#eeeeee" stroke-width="1"/>
<line x1="760.4" x2="760.4" y1="776.5" y2="780" stroke="#eeeeee" stroke-width="1"/>
<line x1="807.3" x2="807.3" y1="776.5" y2="780" stroke="#eeeeee" stroke-width="1"/>
<line x1="854.2" x2="854.2" y1="776.5" y2="780" stroke="#eeeeee" stroke-width="1"/>
<line x1="901.1" x2="901.1" y1="776.5" y2="780" stroke="#eeeeee" stroke-width="1"/>
<line x1="948.1" x2="948.1" y1="776.5" y2="780" stroke="#eeeeee" stroke-width="1"/>
<text x="596.2" y="793.7" text-anchor="middle" font-family="Liberation Sans, sans-serif" font-size="11.8" fill="#909090" textLength="27" lengthAdjust="spacingAndGlyphs">2011</text>
<text x="643.1" y="793.7" text-anchor="middle" font-family="Liberation Sans, sans-serif" font-size="11.8" fill="#909090" textLength="27" lengthAdjust="spacingAndGlyphs">2012</text>
<text x="690.0" y="793.7" text-anchor="middle" font-family="Liberation Sans, sans-serif" font-size="11.8" fill="#909090" textLength="27" lengthAdjust="spacingAndGlyphs">2013</text>
<text x="737.0" y="793.7" text-anchor="middle" font-family="Liberation Sans, sans-serif" font-size="11.8" fill="#909090" textLength="27" lengthAdjust="spacingAndGlyphs">2014</text>
<text x="783.9" y="793.7" text-anchor="middle" font-family="Liberation Sans, sans-serif" font-size="11.8" fill="#909090" textLength="27" lengthAdjust="spacingAndGlyphs">2015</text>
<text x="830.8" y="793.7" text-anchor="middle" font-family="Liberation Sans, sans-serif" font-size="11.8" fill="#909090" textLength="27" lengthAdjust="spacingAndGlyphs">2016</text>
<text x="877.7" y="793.7" text-anchor="middle" font-family="Liberation Sans, sans-serif" font-size="11.8" fill="#909090" textLength="27" lengthAdjust="spacingAndGlyphs">2017</text>
<text x="924.6" y="793.7" text-anchor="middle" font-family="Liberation Sans, sans-serif" font-size="11.8" fill="#909090" textLength="27" lengthAdjust="spacingAndGlyphs">2018</text>
<text x="971.6" y="793.7" text-anchor="middle" font-family="Liberation Sans, sans-serif" font-size="11.8" fill="#909090" textLength="27" lengthAdjust="spacingAndGlyphs">2019</text>
<text transform="translate(530.6,664.4) rotate(-90)" font-family="Liberation Sans, sans-serif" font-size="12" fill="#333" textLength="108.3" lengthAdjust="spacingAndGlyphs" stroke="#333" stroke-width="0.15">Monto CONAPESCA</text>
<polyline points="596.2,733.5 643.1,736.3 690.0,516.6 737.0,473.6 783.9,491.6 830.8,563.2 877.7,571.5 924.6,567.4 971.6,732.6" fill="none" stroke="#02b9da" stroke-width="3.2" stroke-linejoin="round" stroke-linecap="round"/>
<g transform="translate(596.2,733.5)">
<path d="M-10.5,-8.8 V6.2 A7.5,3 0 0 0 4.5,6.2 V-8.8 Z" fill="#fcd24e" fill-opacity="0.2"/>
<path d="M-10.5,-6.30 A7.5,3 0 0 0 4.5,-6.30" fill="none" stroke="#fbbf08" stroke-width="0.85"/>
<path d="M-10.5,-7.55 A7.5,3 0 0 0 4.5,-7.55" fill="none" stroke="#fbbf08" stroke-width="1.0" stroke-dasharray="0.8,0.9" stroke-opacity="0.8"/>
<path d="M-10.5,-3.80 A7.5,3 0 0 0 4.5,-3.80" fill="none" stroke="#fbbf08" stroke-width="0.85"/>
<path d="M-10.5,-5.05 A7.5,3 0 0 0 4.5,-5.05" fill="none" stroke="#fbbf08" stroke-width="1.0" stroke-dasharray="0.8,0.9" stroke-opacity="0.8"/>
<path d="M-10.5,-1.30 A7.5,3 0 0 0 4.5,-1.30" fill="none" stroke="#fbbf08" stroke-width="0.85"/>
<path d="M-10.5,-2.55 A7.5,3 0 0 0 4.5,-2.55" fill="none" stroke="#fbbf08" stroke-width="1.0" stroke-dasharray="0.8,0.9" stroke-opacity="0.8"/>
<path d="M-10.5,1.20 A7.5,3 0 0 0 4.5,1.20" fill="none" stroke="#fbbf08" stroke-width="0.85"/>
<path d="M-10.5,-0.05 A7.5,3 0 0 0 4.5,-0.05" fill="none" stroke="#fbbf08" stroke-width="1.0" stroke-dasharray="0.8,0.9" stroke-opacity="0.8"/>
<path d="M-10.5,3.70 A7.5,3 0 0 0 4.5,3.70" fill="none" stroke="#fbbf08" stroke-width="0.85"/>
<path d="M-10.5,2.45 A7.5,3 0 0 0 4.5,2.45" fill="none" stroke="#fbbf08" stroke-width="1.0" stroke-dasharray="0.8,0.9" stroke-opacity="0.8"/>
<path d="M-10.5,6.20 A7.5,3 0 0 0 4.5,6.20" fill="none" stroke="#fbbf08" stroke-width="0.85"/>
<path d="M-10.5,4.95 A7.5,3 0 0 0 4.5,4.95" fill="none" stroke="#fbbf08" stroke-width="1.0" stroke-dasharray="0.8,0.9" stroke-opacity="0.8"/>
<ellipse cx="-3" cy="-8.8" rx="7.5" ry="3" fill="#fbbf08" mask="url(#cm)"/>
<ellipse cx="5.5" cy="4.8" rx="5" ry="6.6" fill="#fbbf08"/>
<text transform="translate(5.5,8.6) scale(0.82,1)" font-family="Liberation Sans, sans-serif" font-weight="bold" font-size="10.6" fill="#fff" text-anchor="middle">$</text>
</g>
<g transform="translate(643.1,736.3)">
<path d="M-10.5,-8.8 V6.2 A7.5,3 0 0 0 4.5,6.2 V-8.8 Z" fill="#fcd24e" fill-opacity="0.2"/>
<path d="M-10.5,-6.30 A7.5,3 0 0 0 4.5,-6.30" fill="none" stroke="#fbbf08" stroke-width="0.85"/>
<path d="M-10.5,-7.55 A7.5,3 0 0 0 4.5,-7.55" fill="none" stroke="#fbbf08" stroke-width="1.0" stroke-dasharray="0.8,0.9" stroke-opacity="0.8"/>
<path d="M-10.5,-3.80 A7.5,3 0 0 0 4.5,-3.80" fill="none" stroke="#fbbf08" stroke-width="0.85"/>
<path d="M-10.5,-5.05 A7.5,3 0 0 0 4.5,-5.05" fill="none" stroke="#fbbf08" stroke-width="1.0" stroke-dasharray="0.8,0.9" stroke-opacity="0.8"/>
<path d="M-10.5,-1.30 A7.5,3 0 0 0 4.5,-1.30" fill="none" stroke="#fbbf08" stroke-width="0.85"/>
<path d="M-10.5,-2.55 A7.5,3 0 0 0 4.5,-2.55" fill="none" stroke="#fbbf08" stroke-width="1.0" stroke-dasharray="0.8,0.9" stroke-opacity="0.8"/>
<path d="M-10.5,1.20 A7.5,3 0 0 0 4.5,1.20" fill="none" stroke="#fbbf08" stroke-width="0.85"/>
<path d="M-10.5,-0.05 A7.5,3 0 0 0 4.5,-0.05" fill="none" stroke="#fbbf08" stroke-width="1.0" stroke-dasharray="0.8,0.9" stroke-opacity="0.8"/>
<path d="M-10.5,3.70 A7.5,3 0 0 0 4.5,3.70" fill="none" stroke="#fbbf08" stroke-width="0.85"/>
<path d="M-10.5,2.45 A7.5,3 0 0 0 4.5,2.45" fill="none" stroke="#fbbf08" stroke-width="1.0" stroke-dasharray="0.8,0.9" stroke-opacity="0.8"/>
<path d="M-10.5,6.20 A7.5,3 0 0 0 4.5,6.20" fill="none" stroke="#fbbf08" stroke-width="0.85"/>
<path d="M-10.5,4.95 A7.5,3 0 0 0 4.5,4.95" fill="none" stroke="#fbbf08" stroke-width="1.0" stroke-dasharray="0.8,0.9" stroke-opacity="0.8"/>
<ellipse cx="-3" cy="-8.8" rx="7.5" ry="3" fill="#fbbf08" mask="url(#cm)"/>
<ellipse cx="5.5" cy="4.8" rx="5" ry="6.6" fill="#fbbf08"/>
<text transform="translate(5.5,8.6) scale(0.82,1)" font-family="Liberation Sans, sans-serif" font-weight="bold" font-size="10.6" fill="#fff" text-anchor="middle">$</text>
</g>
<g transform="translate(690.0,516.6)">
<path d="M-10.5,-8.8 V6.2 A7.5,3 0 0 0 4.5,6.2 V-8.8 Z" fill="#fcd24e" fill-opacity="0.2"/>
<path d="M-10.5,-6.30 A7.5,3 0 0 0 4.5,-6.30" fill="none" stroke="#fbbf08" stroke-width="0.85"/>
<path d="M-10.5,-7.55 A7.5,3 0 0 0 4.5,-7.55" fill="none" stroke="#fbbf08" stroke-width="1.0" stroke-dasharray="0.8,0.9" stroke-opacity="0.8"/>
<path d="M-10.5,-3.80 A7.5,3 0 0 0 4.5,-3.80" fill="none" stroke="#fbbf08" stroke-width="0.85"/>
<path d="M-10.5,-5.05 A7.5,3 0 0 0 4.5,-5.05" fill="none" stroke="#fbbf08" stroke-width="1.0" stroke-dasharray="0.8,0.9" stroke-opacity="0.8"/>
<path d="M-10.5,-1.30 A7.5,3 0 0 0 4.5,-1.30" fill="none" stroke="#fbbf08" stroke-width="0.85"/>
<path d="M-10.5,-2.55 A7.5,3 0 0 0 4.5,-2.55" fill="none" stroke="#fbbf08" stroke-width="1.0" stroke-dasharray="0.8,0.9" stroke-opacity="0.8"/>
<path d="M-10.5,1.20 A7.5,3 0 0 0 4.5,1.20" fill="none" stroke="#fbbf08" stroke-width="0.85"/>
<path d="M-10.5,-0.05 A7.5,3 0 0 0 4.5,-0.05" fill="none" stroke="#fbbf08" stroke-width="1.0" stroke-dasharray="0.8,0.9" stroke-opacity="0.8"/>
<path d="M-10.5,3.70 A7.5,3 0 0 0 4.5,3.70" fill="none" stroke="#fbbf08" stroke-width="0.85"/>
<path d="M-10.5,2.45 A7.5,3 0 0 0 4.5,2.45" fill="none" stroke="#fbbf08" stroke-width="1.0" stroke-dasharray="0.8,0.9" stroke-opacity="0.8"/>
<path d="M-10.5,6.20 A7.5,3 0 0 0 4.5,6.20" fill="none" stroke="#fbbf08" stroke-width="0.85"/>
<path d="M-10.5,4.95 A7.5,3 0 0 0 4.5,4.95" fill="none" stroke="#fbbf08" stroke-width="1.0" stroke-dasharray="0.8,0.9" stroke-opacity="0.8"/>
<ellipse cx="-3" cy="-8.8" rx="7.5" ry="3" fill="#fbbf08" mask="url(#cm)"/>
<ellipse cx="5.5" cy="4.8" rx="5" ry="6.6" fill="#fbbf08"/>
<text transform="translate(5.5,8.6) scale(0.82,1)" font-family="Liberation Sans, sans-serif" font-weight="bold" font-size="10.6" fill="#fff" text-anchor="middle">$</text>
</g>
<g transform="translate(737.0,473.6)">
<path d="M-10.5,-8.8 V6.2 A7.5,3 0 0 0 4.5,6.2 V-8.8 Z" fill="#fcd24e" fill-opacity="0.2"/>
<path d="M-10.5,-6.30 A7.5,3 0 0 0 4.5,-6.30" fill="none" stroke="#fbbf08" stroke-width="0.85"/>
<path d="M-10.5,-7.55 A7.5,3 0 0 0 4.5,-7.55" fill="none" stroke="#fbbf08" stroke-width="1.0" stroke-dasharray="0.8,0.9" stroke-opacity="0.8"/>
<path d="M-10.5,-3.80 A7.5,3 0 0 0 4.5,-3.80" fill="none" stroke="#fbbf08" stroke-width="0.85"/>
<path d="M-10.5,-5.05 A7.5,3 0 0 0 4.5,-5.05" fill="none" stroke="#fbbf08" stroke-width="1.0" stroke-dasharray="0.8,0.9" stroke-opacity="0.8"/>
<path d="M-10.5,-1.30 A7.5,3 0 0 0 4.5,-1.30" fill="none" stroke="#fbbf08" stroke-width="0.85"/>
<path d="M-10.5,-2.55 A7.5,3 0 0 0 4.5,-2.55" fill="none" stroke="#fbbf08" stroke-width="1.0" stroke-dasharray="0.8,0.9" stroke-opacity="0.8"/>
<path d="M-10.5,1.20 A7.5,3 0 0 0 4.5,1.20" fill="none" stroke="#fbbf08" stroke-width="0.85"/>
<path d="M-10.5,-0.05 A7.5,3 0 0 0 4.5,-0.05" fill="none" stroke="#fbbf08" stroke-width="1.0" stroke-dasharray="0.8,0.9" stroke-opacity="0.8"/>
<path d="M-10.5,3.70 A7.5,3 0 0 0 4.5,3.70" fill="none" stroke="#fbbf08" stroke-width="0.85"/>
<path d="M-10.5,2.45 A7.5,3 0 0 0 4.5,2.45" fill="none" stroke="#fbbf08" stroke-width="1.0" stroke-dasharray="0.8,0.9" stroke-opacity="0.8"/>
<path d="M-10.5,6.20 A7.5,3 0 0 0 4.5,6.20" fill="none" stroke="#fbbf08" stroke-width="0.85"/>
<path d="M-10.5,4.95 A7.5,3 0 0 0 4.5,4.95" fill="none" stroke="#fbbf08" stroke-width="1.0" stroke-dasharray="0.8,0.9" stroke-opacity="0.8"/>
<ellipse cx="-3" cy="-8.8" rx="7.5" ry="3" fill="#fbbf08" mask="url(#cm)"/>
<ellipse cx="5.5" cy="4.8" rx="5" ry="6.6" fill="#fbbf08"/>
<text transform="translate(5.5,8.6) scale(0.82,1)" font-family="Liberation Sans, sans-serif" font-weight="bold" font-size="10.6" fill="#fff" text-anchor="middle">$</text>
</g>
<g transform="translate(783.9,491.6)">
<path d="M-10.5,-8.8 V6.2 A7.5,3 0 0 0 4.5,6.2 V-8.8 Z" fill="#fcd24e" fill-opacity="0.2"/>
<path d="M-10.5,-6.30 A7.5,3 0 0 0 4.5,-6.30" fill="none" stroke="#fbbf08" stroke-width="0.85"/>
<path d="M-10.5,-7.55 A7.5,3 0 0 0 4.5,-7.55" fill="none" stroke="#fbbf08" stroke-width="1.0" stroke-dasharray="0.8,0.9" stroke-opacity="0.8"/>
<path d="M-10.5,-3.80 A7.5,3 0 0 0 4.5,-3.80" fill="none" stroke="#fbbf08" stroke-width="0.85"/>
<path d="M-10.5,-5.05 A7.5,3 0 0 0 4.5,-5.05" fill="none" stroke="#fbbf08" stroke-width="1.0" stroke-dasharray="0.8,0.9" stroke-opacity="0.8"/>
<path d="M-10.5,-1.30 A7.5,3 0 0 0 4.5,-1.30" fill="none" stroke="#fbbf08" stroke-width="0.85"/>
<path d="M-10.5,-2.55 A7.5,3 0 0 0 4.5,-2.55" fill="none" stroke="#fbbf08" stroke-width="1.0" stroke-dasharray="0.8,0.9" stroke-opacity="0.8"/>
<path d="M-10.5,1.20 A7.5,3 0 0 0 4.5,1.20" fill="none" stroke="#fbbf08" stroke-width="0.85"/>
<path d="M-10.5,-0.05 A7.5,3 0 0 0 4.5,-0.05" fill="none" stroke="#fbbf08" stroke-width="1.0" stroke-dasharray="0.8,0.9" stroke-opacity="0.8"/>
<path d="M-10.5,3.70 A7.5,3 0 0 0 4.5,3.70" fill="none" stroke="#fbbf08" stroke-width="0.85"/>
<path d="M-10.5,2.45 A7.5,3 0 0 0 4.5,2.45" fill="none" stroke="#fbbf08" stroke-width="1.0" stroke-dasharray="0.8,0.9" stroke-opacity="0.8"/>
<path d="M-10.5,6.20 A7.5,3 0 0 0 4.5,6.20" fill="none" stroke="#fbbf08" stroke-width="0.85"/>
<path d="M-10.5,4.95 A7.5,3 0 0 0 4.5,4.95" fill="none" stroke="#fbbf08" stroke-width="1.0" stroke-dasharray="0.8,0.9" stroke-opacity="0.8"/>
<ellipse cx="-3" cy="-8.8" rx="7.5" ry="3" fill="#fbbf08" mask="url(#cm)"/>
<ellipse cx="5.5" cy="4.8" rx="5" ry="6.6" fill="#fbbf08"/>
<text transform="translate(5.5,8.6) scale(0.82,1)" font-family="Liberation Sans, sans-serif" font-weight="bold" font-size="10.6" fill="#fff" text-anchor="middle">$</text>
</g>
<g transform="translate(830.8,563.2)">
<path d="M-10.5,-8.8 V6.2 A7.5,3 0 0 0 4.5,6.2 V-8.8 Z" fill="#fcd24e" fill-opacity="0.2"/>
<path d="M-10.5,-6.30 A7.5,3 0 0 0 4.5,-6.30" fill="none" stroke="#fbbf08" stroke-width="0.85"/>
<path d="M-10.5,-7.55 A7.5,3 0 0 0 4.5,-7.55" fill="none" stroke="#fbbf08" stroke-width="1.0" stroke-dasharray="0.8,0.9" stroke-opacity="0.8"/>
<path d="M-10.5,-3.80 A7.5,3 0 0 0 4.5,-3.80" fill="none" stroke="#fbbf08" stroke-width="0.85"/>
<path d="M-10.5,-5.05 A7.5,3 0 0 0 4.5,-5.05" fill="none" stroke="#fbbf08" stroke-width="1.0" stroke-dasharray="0.8,0.9" stroke-opacity="0.8"/>
<path d="M-10.5,-1.30 A7.5,3 0 0 0 4.5,-1.30" fill="none" stroke="#fbbf08" stroke-width="0.85"/>
<path d="M-10.5,-2.55 A7.5,3 0 0 0 4.5,-2.55" fill="none" stroke="#fbbf08" stroke-width="1.0" stroke-dasharray="0.8,0.9" stroke-opacity="0.8"/>
<path d="M-10.5,1.20 A7.5,3 0 0 0 4.5,1.20" fill="none" stroke="#fbbf08" stroke-width="0.85"/>
<path d="M-10.5,-0.05 A7.5,3 0 0 0 4.5,-0.05" fill="none" stroke="#fbbf08" stroke-width="1.0" stroke-dasharray="0.8,0.9" stroke-opacity="0.8"/>
<path d="M-10.5,3.70 A7.5,3 0 0 0 4.5,3.70" fill="none" stroke="#fbbf08" stroke-width="0.85"/>
<path d="M-10.5,2.45 A7.5,3 0 0 0 4.5,2.45" fill="none" stroke="#fbbf08" stroke-width="1.0" stroke-dasharray="0.8,0.9" stroke-opacity="0.8"/>
<path d="M-10.5,6.20 A7.5,3 0 0 0 4.5,6.20" fill="none" stroke="#fbbf08" stroke-width="0.85"/>
<path d="M-10.5,4.95 A7.5,3 0 0 0 4.5,4.95" fill="none" stroke="#fbbf08" stroke-width="1.0" stroke-dasharray="0.8,0.9" stroke-opacity="0.8"/>
<ellipse cx="-3" cy="-8.8" rx="7.5" ry="3" fill="#fbbf08" mask="url(#cm)"/>
<ellipse cx="5.5" cy="4.8" rx="5" ry="6.6" fill="#fbbf08"/>
<text transform="translate(5.5,8.6) scale(0.82,1)" font-family="Liberation Sans, sans-serif" font-weight="bold" font-size="10.6" fill="#fff" text-anchor="middle">$</text>
</g>
<g transform="translate(877.7,571.5)">
<path d="M-10.5,-8.8 V6.2 A7.5,3 0 0 0 4.5,6.2 V-8.8 Z" fill="#fcd24e" fill-opacity="0.2"/>
<path d="M-10.5,-6.30 A7.5,3 0 0 0 4.5,-6.30" fill="none" stroke="#fbbf08" stroke-width="0.85"/>
<path d="M-10.5,-7.55 A7.5,3 0 0 0 4.5,-7.55" fill="none" stroke="#fbbf08" stroke-width="1.0" stroke-dasharray="0.8,0.9" stroke-opacity="0.8"/>
<path d="M-10.5,-3.80 A7.5,3 0 0 0 4.5,-3.80" fill="none" stroke="#fbbf08" stroke-width="0.85"/>
<path d="M-10.5,-5.05 A7.5,3 0 0 0 4.5,-5.05" fill="none" stroke="#fbbf08" stroke-width="1.0" stroke-dasharray="0.8,0.9" stroke-opacity="0.8"/>
<path d="M-10.5,-1.30 A7.5,3 0 0 0 4.5,-1.30" fill="none" stroke="#fbbf08" stroke-width="0.85"/>
<path d="M-10.5,-2.55 A7.5,3 0 0 0 4.5,-2.55" fill="none" stroke="#fbbf08" stroke-width="1.0" stroke-dasharray="0.8,0.9" stroke-opacity="0.8"/>
<path d="M-10.5,1.20 A7.5,3 0 0 0 4.5,1.20" fill="none" stroke="#fbbf08" stroke-width="0.85"/>
<path d="M-10.5,-0.05 A7.5,3 0 0 0 4.5,-0.05" fill="none" stroke="#fbbf08" stroke-width="1.0" stroke-dasharray="0.8,0.9" stroke-opacity="0.8"/>
<path d="M-10.5,3.70 A7.5,3 0 0 0 4.5,3.70" fill="none" stroke="#fbbf08" stroke-width="0.85"/>
<path d="M-10.5,2.45 A7.5,3 0 0 0 4.5,2.45" fill="none" stroke="#fbbf08" stroke-width="1.0" stroke-dasharray="0.8,0.9" stroke-opacity="0.8"/>
<path d="M-10.5,6.20 A7.5,3 0 0 0 4.5,6.20" fill="none" stroke="#fbbf08" stroke-width="0.85"/>
<path d="M-10.5,4.95 A7.5,3 0 0 0 4.5,4.95" fill="none" stroke="#fbbf08" stroke-width="1.0" stroke-dasharray="0.8,0.9" stroke-opacity="0.8"/>
<ellipse cx="-3" cy="-8.8" rx="7.5" ry="3" fill="#fbbf08" mask="url(#cm)"/>
<ellipse cx="5.5" cy="4.8" rx="5" ry="6.6" fill="#fbbf08"/>
<text transform="translate(5.5,8.6) scale(0.82,1)" font-family="Liberation Sans, sans-serif" font-weight="bold" font-size="10.6" fill="#fff" text-anchor="middle">$</text>
</g>
<g transform="translate(924.6,567.4)">
<path d="M-10.5,-8.8 V6.2 A7.5,3 0 0 0 4.5,6.2 V-8.8 Z" fill="#fcd24e" fill-opacity="0.2"/>
<path d="M-10.5,-6.30 A7.5,3 0 0 0 4.5,-6.30" fill="none" stroke="#fbbf08" stroke-width="0.85"/>
<path d="M-10.5,-7.55 A7.5,3 0 0 0 4.5,-7.55" fill="none" stroke="#fbbf08" stroke-width="1.0" stroke-dasharray="0.8,0.9" stroke-opacity="0.8"/>
<path d="M-10.5,-3.80 A7.5,3 0 0 0 4.5,-3.80" fill="none" stroke="#fbbf08" stroke-width="0.85"/>
<path d="M-10.5,-5.05 A7.5,3 0 0 0 4.5,-5.05" fill="none" stroke="#fbbf08" stroke-width="1.0" stroke-dasharray="0.8,0.9" stroke-opacity="0.8"/>
<path d="M-10.5,-1.30 A7.5,3 0 0 0 4.5,-1.30" fill="none" stroke="#fbbf08" stroke-width="0.85"/>
<path d="M-10.5,-2.55 A7.5,3 0 0 0 4.5,-2.55" fill="none" stroke="#fbbf08" stroke-width="1.0" stroke-dasharray="0.8,0.9" stroke-opacity="0.8"/>
<path d="M-10.5,1.20 A7.5,3 0 0 0 4.5,1.20" fill="none" stroke="#fbbf08" stroke-width="0.85"/>
<path d="M-10.5,-0.05 A7.5,3 0 0 0 4.5,-0.05" fill="none" stroke="#fbbf08" stroke-width="1.0" stroke-dasharray="0.8,0.9" stroke-opacity="0.8"/>
<path d="M-10.5,3.70 A7.5,3 0 0 0 4.5,3.70" fill="none" stroke="#fbbf08" stroke-width="0.85"/>
<path d="M-10.5,2.45 A7.5,3 0 0 0 4.5,2.45" fill="none" stroke="#fbbf08" stroke-width="1.0" stroke-dasharray="0.8,0.9" stroke-opacity="0.8"/>
<path d="M-10.5,6.20 A7.5,3 0 0 0 4.5,6.20" fill="none" stroke="#fbbf08" stroke-width="0.85"/>
<path d="M-10.5,4.95 A7.5,3 0 0 0 4.5,4.95" fill="none" stroke="#fbbf08" stroke-width="1.0" stroke-dasharray="0.8,0.9" stroke-opacity="0.8"/>
<ellipse cx="-3" cy="-8.8" rx="7.5" ry="3" fill="#fbbf08" mask="url(#cm)"/>
<ellipse cx="5.5" cy="4.8" rx="5" ry="6.6" fill="#fbbf08"/>
<text transform="translate(5.5,8.6) scale(0.82,1)" font-family="Liberation Sans, sans-serif" font-weight="bold" font-size="10.6" fill="#fff" text-anchor="middle">$</text>
</g>
<g transform="translate(971.6,732.6)">
<path d="M-10.5,-8.8 V6.2 A7.5,3 0 0 0 4.5,6.2 V-8.8 Z" fill="#fcd24e" fill-opacity="0.2"/>
<path d="M-10.5,-6.30 A7.5,3 0 0 0 4.5,-6.30" fill="none" stroke="#fbbf08" stroke-width="0.85"/>
<path d="M-10.5,-7.55 A7.5,3 0 0 0 4.5,-7.55" fill="none" stroke="#fbbf08" stroke-width="1.0" stroke-dasharray="0.8,0.9" stroke-opacity="0.8"/>
<path d="M-10.5,-3.80 A7.5,3 0 0 0 4.5,-3.80" fill="none" stroke="#fbbf08" stroke-width="0.85"/>
<path d="M-10.5,-5.05 A7.5,3 0 0 0 4.5,-5.05" fill="none" stroke="#fbbf08" stroke-width="1.0" stroke-dasharray="0.8,0.9" stroke-opacity="0.8"/>
<path d="M-10.5,-1.30 A7.5,3 0 0 0 4.5,-1.30" fill="none" stroke="#fbbf08" stroke-width="0.85"/>
<path d="M-10.5,-2.55 A7.5,3 0 0 0 4.5,-2.55" fill="none" stroke="#fbbf08" stroke-width="1.0" stroke-dasharray="0.8,0.9" stroke-opacity="0.8"/>
<path d="M-10.5,1.20 A7.5,3 0 0 0 4.5,1.20" fill="none" stroke="#fbbf08" stroke-width="0.85"/>
<path d="M-10.5,-0.05 A7.5,3 0 0 0 4.5,-0.05" fill="none" stroke="#fbbf08" stroke-width="1.0" stroke-dasharray="0.8,0.9" stroke-opacity="0.8"/>
<path d="M-10.5,3.70 A7.5,3 0 0 0 4.5,3.70" fill="none" stroke="#fbbf08" stroke-width="0.85"/>
<path d="M-10.5,2.45 A7.5,3 0 0 0 4.5,2.45" fill="none" stroke="#fbbf08" stroke-width="1.0" stroke-dasharray="0.8,0.9" stroke-opacity="0.8"/>
<path d="M-10.5,6.20 A7.5,3 0 0 0 4.5,6.20" fill="none" stroke="#fbbf08" stroke-width="0.85"/>
<path d="M-10.5,4.95 A7.5,3 0 0 0 4.5,4.95" fill="none" stroke="#fbbf08" stroke-width="1.0" stroke-dasharray="0.8,0.9" stroke-opacity="0.8"/>
<ellipse cx="-3" cy="-8.8" rx="7.5" ry="3" fill="#fbbf08" mask="url(#cm)"/>
<ellipse cx="5.5" cy="4.8" rx="5" ry="6.6" fill="#fbbf08"/>
<text transform="translate(5.5,8.6) scale(0.82,1)" font-family="Liberation Sans, sans-serif" font-weight="bold" font-size="10.6" fill="#fff" text-anchor="middle">$</text>
</g>
</svg>
<div style="position:absolute;left:0;top:800px;width:1000px;height:27px;background:#fafafa"></div>
<svg width="1000" height="27" viewBox="0 800 1000 27" style="position:absolute;left:0;top:800px">
<g stroke="#5e5e5e" stroke-width="1" fill="none" stroke-linecap="butt">
<path d="M41.5,810.1v6.8 M38.1,813.5h6.8 M37.5,807.1v4.8 M35.1,809.5h4.8 M45.5,807.1v4.8 M43.1,809.5h4.8 M37.5,815.1v4.8 M35.1,817.5h4.8 M45.5,815.1v4.8 M43.1,817.5h4.8 M41.5,804.9v3 M40,806.4h3 M41.5,819v3 M40,820.5h3 M34.4,812v3 M32.9,813.5h3 M48.5,812v3 M47,813.5h3"/>
</g>
<text x="55.5" y="818" font-family="Liberation Sans, sans-serif" font-size="12.8" fill="#5f5f5f" textLength="132.5" lengthAdjust="spacingAndGlyphs" stroke="#5f5f5f" stroke-width="0.25">View on Tableau Public</text>
<g stroke="#c6c6c6" stroke-width="1.2" fill="none" stroke-linecap="round" stroke-linejoin="round">
<path d="M620.5,809 H630 A5.6,5.8 0 0 1 630,820.6 H621.5 M624,806 L620.5,809 L624,812"/>
<path d="M675.5,809 H666 A5.6,5.8 0 0 0 666,820.6 H674.5 M672.8,806.6 L675.5,809 L672.8,811.4"/>
<path d="M703.5,809 H710 A5.6,5.8 0 0 1 710,820.6 H701.5 M706.2,806.6 L703.5,809 L706.2,811.4 M700.5,806 V812"/>
<path d="M749,811 H740.5 A3.6,3.6 0 0 0 740.5,818.2 H747.5 A3.6,3.6 0 0 0 751.2,814.6 M746.5,808.6 L749.2,811 L746.5,813.4"/>
<path d="M795.5,807 V820" stroke="#bdbdbd"/>
</g>
<path d="M766.4,812.6 h7.2 l-3.6,4.4z" fill="#c2c2c2"/>
<g stroke="#5a5a5a" stroke-width="1.2" fill="none" stroke-linejoin="round" stroke-linecap="round">
<path d="M827.8,815.2 H823.6 Q822.3,815.2 822.3,813.9 V807.7 Q822.3,806.4 823.6,806.4 H835.3 Q836.6,806.4 836.6,807.7 V813.9 Q836.6,815.2 835.3,815.2 H831.4 M829.6,813.2 V820"/><path d="M827.2,819.4 H832 L829.6,822.2Z" fill="#5a5a5a" stroke-width="0.6"/>
<path d="M873.3,811.2 V807.6 Q873.3,806.3 874.6,806.3 H878.4 M883.6,806.3 H887.4 Q888.7,806.3 888.7,807.6 V811.2 M888.7,816.6 V820.2 Q888.7,821.5 887.4,821.5 H883.6 M878.4,821.5 H874.6 Q873.3,821.5 873.3,820.2 V816.6"/>
<rect x="876.3" y="809.3" width="9.4" height="9.2" rx="1.3"/>
<circle cx="923.1" cy="808.8" r="2.8" stroke-width="1.1"/><circle cx="913.8" cy="814" r="2.8" stroke-width="1.1"/><circle cx="923.1" cy="819.1" r="2.8" stroke-width="1.1"/>
<path d="M916.3,812.6 L920.6,810.2 M916.3,815.4 L920.6,817.8" stroke-width="1.1"/>
</g>
<path d="M842.2,812.2 h7.2 l-3.6,4.6z" fill="#555"/>
<text x="933" y="818" font-family="Liberation Sans, sans-serif" font-weight="bold" font-size="12" fill="#666" textLength="33.2" lengthAdjust="spacingAndGlyphs">Share</text>
</svg>
</body></html>
